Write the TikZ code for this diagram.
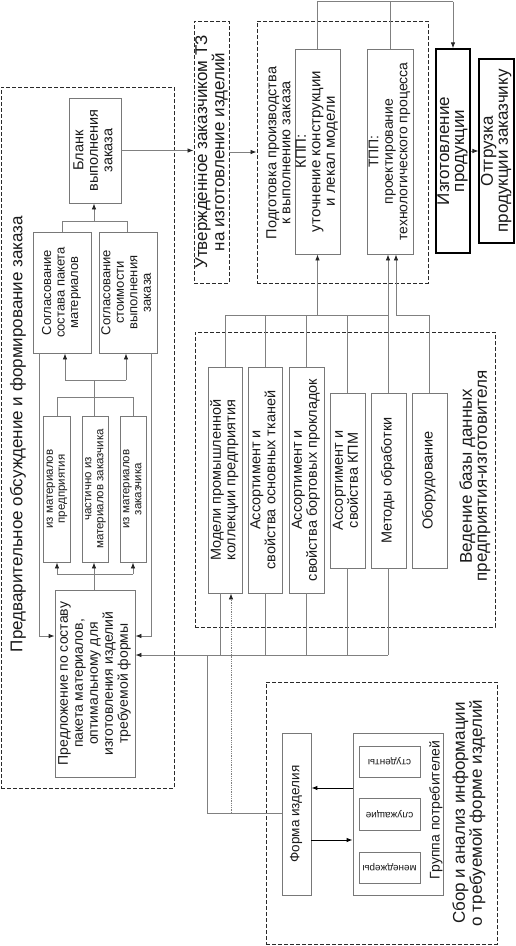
\documentclass[tikz,border=0pt]{standalone}
\usepackage{fontspec}
\setmainfont{Liberation Sans}
\usepackage{graphicx}
\usetikzlibrary{arrows.meta,fit}
\definecolor{lineg}{HTML}{808080}
\definecolor{boxg}{HTML}{787878}
\definecolor{dsh}{HTML}{2A2A2A}
\definecolor{txt}{HTML}{1A1A1A}
\newcommand\vt[1]{\rotatebox{90}{\begin{tabular}{@{}c@{}}#1\end{tabular}}}
\begin{document}
\begin{tikzpicture}[x=1pt,y=-1pt,
  bx/.style={draw=boxg, line width=0.8pt, inner sep=0pt, text=txt},
  sz/.style n args={2}{minimum width=#1, minimum height=#2},
  dbx/.style={draw=dsh, line width=0.9pt, dash pattern=on 4pt off 2pt, inner sep=0pt},
  thk/.style={draw=black, line width=1.3pt, inner sep=0pt, text=txt},
  ttl/.style={rotate=90, align=center, text=txt, inner sep=0pt},
  ln/.style={draw=lineg, line width=0.8pt},
  arr/.style={ln, -{Latex[length=6pt,width=4.5pt,color=black!85]}},
  barr/.style={draw=black, line width=1pt, -{Latex[length=6pt,width=4.5pt]}},
  fA/.style={font=\fontsize{17}{15}\selectfont},
  fB/.style={font=\fontsize{14.5}{14.5}\selectfont},
  fC/.style={font=\fontsize{13}{13.5}\selectfont},
  fD/.style={font=\fontsize{11.5}{12}\selectfont},
  fE/.style={font=\fontsize{10}{11}\selectfont}
]
\useasboundingbox (0,0) rectangle (515,946);
\fill[white] (0,0) rectangle (515,946);

% ---------- left block
\node[dbx, fit={(1,87)(174,788)}] (L) {};
\node[ttl, fA] (Lt) at (18,434) {Предварительное обсуждение и формирование заказа};
\node[bx, fB, sz={52}{105}] (blank) at (95,150.5) {\vt{Бланк\\выполнения\\заказа}};
\node[bx, fC, sz={58}{121}] (sogA) at (62,292.5) {\vt{Согласование\\состава пакета\\материалов}};
\node[bx, fC, sz={58}{121}] (sogB) at (128,292.5) {\vt{Согласование\\стоимости\\выполнения\\заказа}};
\node[bx, fD, sz={27}{146}] (m1) at (56.5,489) {\vt{из материалов\\предприятия}};
\node[bx, fD, sz={26}{146}] (m2) at (95,489) {\vt{частично из\\материалов заказчика}};
\node[bx, fD, sz={26}{146}] (m3) at (133,489) {\vt{из материалов\\заказчика}};
\node[bx, font=\fontsize{14}{15}\selectfont, sz={80}{187}] (pred) at (95,683.5) {\vt{Предложение по составу\\пакета материалов,\\оптимальному для\\изготовления изделий\\требуемой формы}};

\draw[ln] (62,0 |- sogA.north) -- (62,221) -- (127,221) -- (127,0 |- sogB.north);
\draw[arr] (94,221) -- (94,0 |- blank.south);
\draw[ln] (57,0 |- m1.north) -- (57,397) -- (133,397) -- (133,0 |- m3.north);
\draw[ln] (94,0 |- m2.north) -- (94,380);
\draw[ln] (65,380) -- (126,380);
\draw[arr] (65,380) -- (65,0 |- sogA.south);
\draw[arr] (126,380) -- (126,0 |- sogB.south);
\draw[ln] (94,0 |- pred.north) -- (94,574);
\draw[ln] (57,574) -- (133,574);
\draw[arr] (57,574) -- (57,0 |- m1.south);
\draw[arr] (94,574) -- (94,0 |- m2.south);
\draw[arr] (133,574) -- (133,0 |- m3.south);
\draw[arr] (39,0 |- sogA.south) -- (39,636) -- (pred.west |- 0,636);
\draw[arr] (151,0 |- sogB.south) -- (151,636) -- (pred.east |- 0,636);

% ---------- top row
\node[dbx, fit={(194,21)(229,283)}] (utv) {};
\node[ttl, fA] (utvt) at (utv) {Утвержденное заказчиком ТЗ\\на изготовление изделий};
\node[dbx, fit={(257,21)(428,283)}] (podg) {};
\node[ttl, font=\fontsize{14.5}{14}\selectfont] (podgt) at (278.5,153) {Подготовка производства\\к выполнению заказа};
\node[bx, font=\fontsize{15}{14.5}\selectfont, sz={45}{205}] (kpp) at (317.5,151.5) {\vt{КПП:\\уточнение конструкции\\и лекал модели}};
\node[bx, font=\fontsize{14}{14.5}\selectfont, sz={46}{205}] (tpp) at (390,151.5) {\vt{ТПП:\\проектирование\\технологического процесса}};
\node[thk, fA, sz={34}{204}] (izg) at (453,151) {\vt{Изготовление\\продукции}};
\node[thk, fA, sz={35}{184}] (otgr) at (496.6,151) {\vt{Отгрузка\\продукции заказчику}};

\draw[arr] (blank.east) -- (utv.west |- blank.east);
\draw[arr] (utv.east) -- (podg.west |- utv.east);
\draw[arr] (izg.east) -- (otgr.west |- izg.east);
\draw[ln] (kpp.north) -- (kpp.north |- 0,1.5) -- (izg.north |- 0,1.5);
\draw[ln] (tpp.north) -- (tpp.north |- 0,1.5);
\draw[arr] (izg.north |- 0,1.5) -- (izg.north);

% ---------- database block
\node[dbx, fit={(195,332)(495,627)}] (db) {};
\node[ttl, fA] (dbt) at (475,476) {Ведение базы данных\\предприятия-изготовителя};
\node[bx, fB, sz={34}{226}] (d1) at (225,480) {\vt{Модели промышленной\\коллекции предприятия}};
\node[bx, fB, sz={34}{226}] (d2) at (265,480) {\vt{Ассортимент и\\свойства основных тканей}};
\node[bx, fB, sz={35}{226}] (d3) at (306.5,480) {\vt{Ассортимент и\\свойства бортовых прокладок}};
\node[bx, fB, sz={35}{175}] (d4) at (347.5,480.5) {\vt{Ассортимент и\\свойства КПМ}};
\node[bx, fB, sz={35}{175}] (d5) at (388.5,480.5) {\vt{Методы обработки}};
\node[bx, fB, sz={35}{175}] (d6) at (429.5,480.5) {\vt{Оборудование}};

\draw[ln] (d1.north) -- (d1.north |- 0,315) -- (388,315);
\draw[ln] (d2.north) -- (d2.north |- 0,315);
\draw[ln] (d3.north) -- (d3.north |- 0,315);
\draw[ln] (d4.north) -- (d4.north |- 0,315);
\draw[arr] (kpp.south |- 0,315) -- (kpp.south);
\draw[arr] (388,0 |- d5.north) -- (388,0 |- tpp.south);
\draw[arr] (d6.north) -- (d6.north |- 0,315) -- (396,315) -- (396,0 |- tpp.south);

\draw[ln] (220,0 |- d1.south) -- (220,655);
\draw[ln] (d2.south) -- (d2.south |- 0,655);
\draw[ln] (d3.south) -- (d3.south |- 0,655);
\draw[ln] (d4.south) -- (d4.south |- 0,655);
\draw[ln] (388,0 |- d5.south) -- (388,655);
\draw[arr] (388,655) -- (pred.east |- 0,655);

% ---------- consumer block
\node[dbx, fit={(266,682)(497,944)}] (sbor) {};
\node[ttl, font=\fontsize{17}{17}\selectfont] (sbort) at (469,813) {Сбор и анализ информации\\о требуемой форме изделий};
\node[bx, font=\fontsize{13.5}{14}\selectfont, sz={29}{162}] (forma) at (296.5,814) {\vt{Форма изделия}};
\node[bx, sz={90}{162}] (grp) at (398,814) {};
\node[ttl, font=\fontsize{14}{14}\selectfont] (grpt) at (436,810) {Группа потребителей};
\node[bx, fE, sz={61}{31}] (g1) at (389.5,761.5) {\rotatebox{180}{студенты}};
\node[bx, fE, sz={61}{32}] (g2) at (389.5,814) {\rotatebox{180}{служащие}};
\node[bx, fE, sz={61}{31}] (g3) at (389.5,867.5) {\rotatebox{180}{менеджеры}};

\draw[barr] (grp.west |- 0,788) -- (forma.east |- 0,788);
\draw[barr] (forma.east |- 0,840) -- (grp.west |- 0,840);
\draw[ln] (forma.west |- 0,813) -- (207,813) -- (207,655);
\draw[ln, densely dotted, -{Latex[length=6pt,width=4.5pt,color=black!85]}] (231,813) -- (231,0 |- d1.south);
\end{tikzpicture}
\end{document}
